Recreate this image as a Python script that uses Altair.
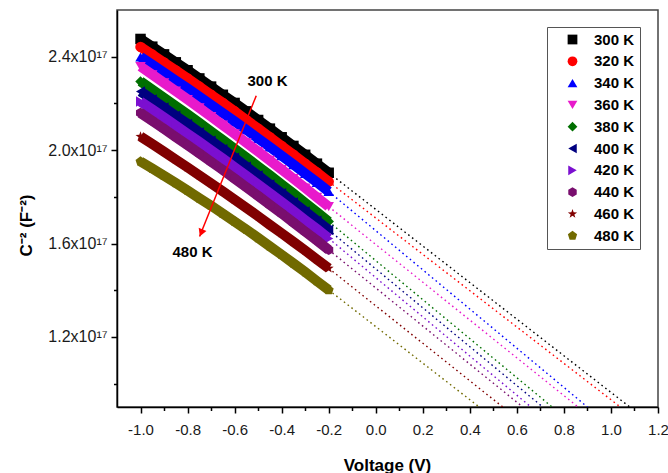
import altair as alt
import pandas as pd

# Reverse-bias sweep (V)
voltage = [-1.0, -0.95, -0.9, -0.85, -0.8, -0.75, -0.7, -0.65, -0.6,
           -0.55, -0.5, -0.45, -0.4, -0.35, -0.3, -0.25, -0.2]

temps = ["300 K", "320 K", "340 K", "360 K", "380 K",
         "400 K", "420 K", "440 K", "460 K", "480 K"]

# C^-2 in units of 1e17 F^-2
c2_300 = [2.476, 2.443, 2.410, 2.376, 2.342, 2.307, 2.272, 2.237, 2.202,
          2.166, 2.129, 2.092, 2.055, 2.018, 1.980, 1.942, 1.903]
c2_320 = [2.442, 2.409, 2.375, 2.341, 2.307, 2.272, 2.237, 2.202, 2.166,
          2.129, 2.092, 2.055, 2.018, 1.980, 1.942, 1.904, 1.865]
c2_340 = [2.399, 2.366, 2.332, 2.298, 2.264, 2.229, 2.194, 2.159, 2.123,
          2.087, 2.050, 2.013, 1.976, 1.938, 1.900, 1.862, 1.823]
c2_360 = [2.358, 2.323, 2.288, 2.253, 2.217, 2.181, 2.144, 2.107, 2.070,
          2.032, 1.994, 1.956, 1.917, 1.878, 1.838, 1.798, 1.758]
c2_380 = [2.294, 2.259, 2.224, 2.189, 2.153, 2.117, 2.080, 2.043, 2.006,
          1.968, 1.930, 1.892, 1.853, 1.814, 1.774, 1.734, 1.694]
c2_400 = [2.251, 2.217, 2.182, 2.147, 2.112, 2.076, 2.040, 2.004, 1.967,
          1.929, 1.891, 1.853, 1.815, 1.776, 1.737, 1.698, 1.658]
c2_420 = [2.208, 2.174, 2.140, 2.105, 2.070, 2.035, 1.999, 1.964, 1.927,
          1.890, 1.853, 1.815, 1.778, 1.739, 1.700, 1.662, 1.622]
c2_440 = [2.159, 2.125, 2.091, 2.056, 2.021, 1.986, 1.950, 1.915, 1.878,
          1.841, 1.804, 1.766, 1.729, 1.690, 1.651, 1.613, 1.573]
c2_460 = [2.058, 2.026, 1.993, 1.959, 1.926, 1.892, 1.858, 1.823, 1.788,
          1.753, 1.717, 1.680, 1.644, 1.607, 1.570, 1.532, 1.494]
c2_480 = [1.951, 1.921, 1.890, 1.859, 1.827, 1.794, 1.762, 1.728, 1.694,
          1.660, 1.624, 1.588, 1.552, 1.515, 1.478, 1.439, 1.401]

series = [c2_300, c2_320, c2_340, c2_360, c2_380,
          c2_400, c2_420, c2_440, c2_460, c2_480]

# Linear-fit extrapolations: voltage where each fit reaches the lower plot edge
fit_end_v = [1.08, 1.04, 0.90, 0.86, 0.75, 0.71, 0.66, 0.625, 0.54, 0.44]
fit_end_c2 = 0.9

colors = ["#000000", "#FF0000", "#0000FF", "#E81ACB", "#006F00",
          "#000080", "#7B0FD0", "#790E6E", "#800000", "#716A00"]

hexagon = "M0,-1L0.866,-0.5L0.866,0.5L0,1L-0.866,0.5L-0.866,-0.5Z"
star = ("M0,-1L0.235,-0.324L0.951,-0.309L0.380,0.124L0.588,0.809L0,0.4"
        "L-0.588,0.809L-0.380,0.124L-0.951,-0.309L-0.235,-0.324Z")
pentagon = "M0,-1L0.951,-0.309L0.588,0.809L-0.588,0.809L-0.951,-0.309Z"
shapes = ["square", "circle", "triangle-up", "triangle-down", "diamond",
          "triangle-left", "triangle-right", hexagon, star, pentagon]

# Arrow annotation (300 K -> 480 K)
arrow_v = [-0.508, -0.749]
arrow_c2 = [2.233, 1.630]
head_v = -0.742
head_c2 = 1.646
note_text = ["300 K", "480 K"]
note_v = [-0.460, -0.779]
note_c2 = [2.294, 1.565]

FONT = "Liberation Sans"

x_major = [-1.0, -0.8, -0.6, -0.4, -0.2, 0.0, 0.2, 0.4, 0.6, 0.8, 1.0, 1.2]
x_minor = [-0.9, -0.7, -0.5, -0.3, -0.1, 0.1, 0.3, 0.5, 0.7, 0.9, 1.1]
y_major = [1.2, 1.6, 2.0, 2.4]
y_minor = [1.0, 1.4, 1.8, 2.2]

xscale = alt.Scale(domain=[-1.1, 1.2], nice=False, zero=False)
yscale = alt.Scale(domain=[0.9, 2.6], nice=False, zero=False)
color_scale = alt.Scale(domain=temps, range=colors)
shape_scale = alt.Scale(domain=temps, range=shapes)

rows = []
for t, vals in zip(temps, series):
    for v, c in zip(voltage, vals):
        rows.append({"temp": t, "voltage": v, "c2": c})
df = pd.DataFrame(rows)

legend = alt.Legend(
    title=None, orient="none", legendX=430, legendY=17,
    strokeColor="#555555", padding=5, symbolOffset=13,
    symbolSize=95, symbolStrokeWidth=0, labelOffset=14,
    labelFont=FONT, labelFontSize=15, labelFontWeight="bold",
    labelColor="#000000", rowPadding=5.8,
)

X = alt.X("voltage:Q", scale=xscale, axis=None)
Y = alt.Y("c2:Q", scale=yscale, axis=None)

layers = []
# Dotted extrapolations of the linear fits
for t, vals, ve, col in zip(temps, series, fit_end_v, colors):
    fit_df = pd.DataFrame({"voltage": [voltage[-1], ve],
                           "c2": [vals[-1], fit_end_c2]})
    layers.append(
        alt.Chart(fit_df).mark_line(
            strokeWidth=1.4, strokeDash=[1.6, 3.2], clip=True, color=col
        ).encode(x=X, y=Y)
    )

# Measured data: a solid band through the points, markers on top
for t, col in zip(temps, colors):
    sub = df[df["temp"] == t]
    base = alt.Chart(sub)
    band = base.mark_line(strokeWidth=10, strokeCap="butt", color=col).encode(x=X, y=Y)
    pts = base.mark_point(filled=True, size=110, opacity=1, strokeWidth=0).encode(
        x=X, y=Y,
        color=alt.Color("temp:N", scale=color_scale, legend=legend),
        shape=alt.Shape("temp:N", scale=shape_scale, legend=legend),
    )
    layers += [band, pts]

arrow_df = pd.DataFrame({"v": [arrow_v[0]], "c": [arrow_c2[0]],
                         "v2": [arrow_v[1]], "c2e": [arrow_c2[1]]})
arrow = alt.Chart(arrow_df).mark_rule(color="#FF0000", strokeWidth=1.5).encode(
    x=alt.X("v:Q", scale=xscale, axis=None),
    y=alt.Y("c:Q", scale=yscale, axis=None),
    x2="v2:Q", y2="c2e:Q",
)
head = alt.Chart(pd.DataFrame({"v": [head_v], "c": [head_c2]})).mark_point(
    shape="triangle-down", filled=True, size=70, color="#FF0000",
    opacity=1, angle=22, strokeWidth=0,
).encode(
    x=alt.X("v:Q", scale=xscale, axis=None),
    y=alt.Y("c:Q", scale=yscale, axis=None),
)
notes = alt.Chart(pd.DataFrame({"t": note_text, "v": note_v, "c": note_c2})).mark_text(
    font=FONT, fontSize=15, fontWeight="bold", color="#000000"
).encode(
    x=alt.X("v:Q", scale=xscale, axis=None),
    y=alt.Y("c:Q", scale=yscale, axis=None),
    text="t:N",
)

frame_df = pd.DataFrame({"v": [-1.1, 1.2], "c": [0.9, 2.6]})
axis_common = dict(domainColor="#000000", domainWidth=1.5, tickColor="#000000",
                   tickWidth=1.5, grid=False, labelFont=FONT,
                   labelColor="#1a1a1a", titleFont=FONT, titleFontWeight="bold",
                   titleFontSize=17, titleColor="#000000")
major_axes = alt.Chart(frame_df).mark_point(opacity=0).encode(
    x=alt.X("v:Q", scale=xscale, axis=alt.Axis(
        orient="bottom", values=x_major, tickSize=6, labelFontSize=15,
        labelExpr="(datum.value < 0 ? '-' : '') + format(abs(datum.value), '.1f')",
        labelPadding=9, title="Voltage (V)", titleX=270, titleY=58,
        titleBaseline="middle", labelFlush=False, labelOverlap=False,
        **axis_common)),
    y=alt.Y("c:Q", scale=yscale, axis=alt.Axis(
        orient="left", values=y_major, tickSize=6, labelPadding=4,
        labelFontSize=16,
        labelExpr="format(datum.value, '.1f') + 'x10\u00b9\u2077'",
        title="C\u207b\u00b2 (F\u207b\u00b2)", titleX=-91, titleY=215,
        titleBaseline="middle", titleAngle=-90, labelFlush=False,
        labelOverlap=False, **axis_common)),
)
minor_axes = alt.Chart(frame_df).mark_point(opacity=0).encode(
    x=alt.X("v:Q", scale=xscale, axis=alt.Axis(
        orient="bottom", values=x_minor, tickSize=3.5, tickWidth=1.5,
        tickColor="#000000", labels=False, domain=False, grid=False, title=None)),
    y=alt.Y("c:Q", scale=yscale, axis=alt.Axis(
        orient="left", values=y_minor, tickSize=3.5, tickWidth=1.5,
        tickColor="#000000", labels=False, domain=False, grid=False, title=None)),
)

chart = alt.layer(
    *layers, arrow, head, notes, major_axes, minor_axes
).resolve_axis(
    x="independent", y="independent"
).properties(
    width=541, height=397,
    padding={"left": 117, "top": 10, "right": 10, "bottom": 66},
    autosize=alt.AutoSizeParams(type="none"),
    background="#FFFFFF",
).configure_view(
    stroke="#444444", strokeWidth=1.5
)

chart.save("out.html", embed_options={"renderer": "svg", "actions": False})
